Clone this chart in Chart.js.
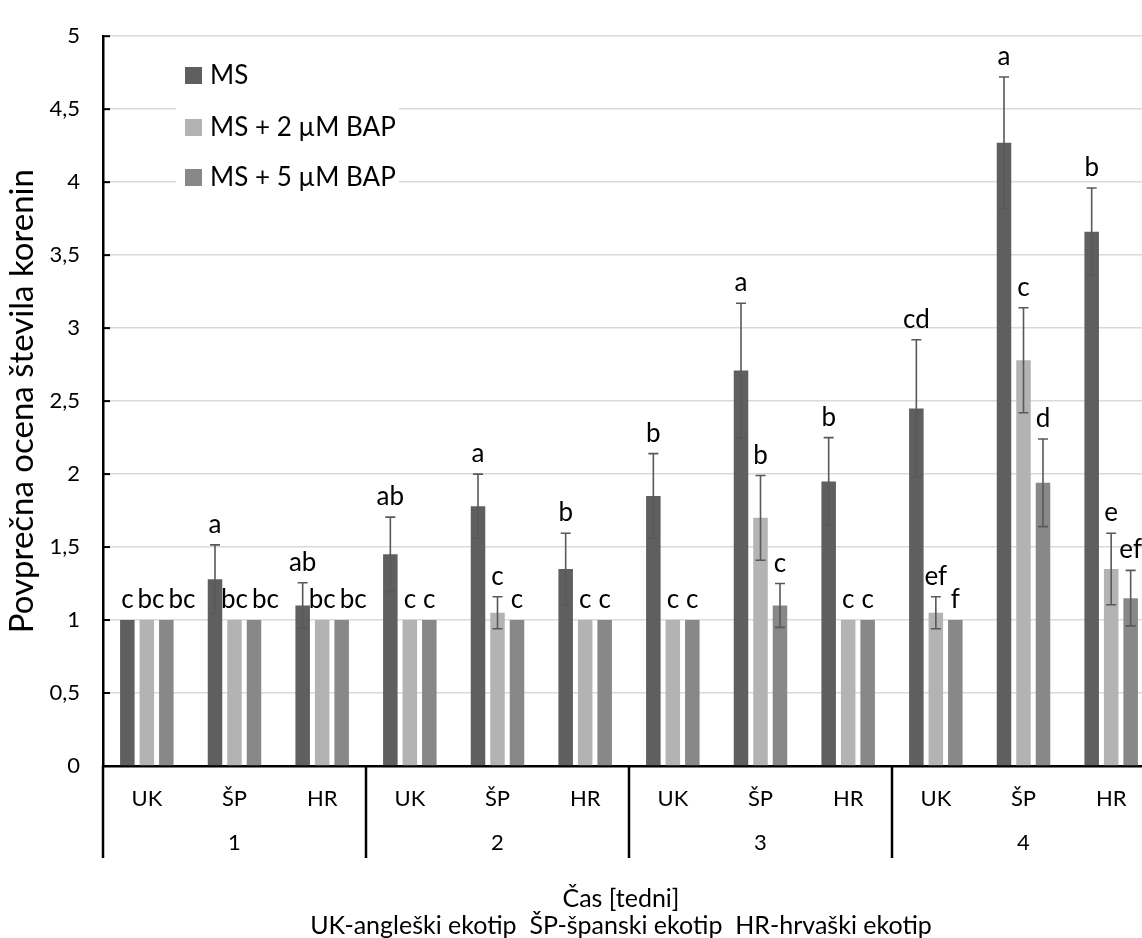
<!DOCTYPE html>
<html>
<head>
<meta charset="utf-8">
<script src="https://cdn.jsdelivr.net/npm/chart.js@4/dist/chart.umd.min.js"></script>
<style>
  html, body { margin: 0; padding: 0; background: #fff; overflow: hidden; }
  #wrap { width: 1163px; height: 938px; }
</style>
</head>
<body>
<div id="wrap"><canvas id="c" width="1163" height="938"></canvas></div>
<script>
// ---- data ----
const weeks = ['1', '2', '3', '4'];
const ecotypes = ['UK', 'ŠP', 'HR'];
const categories = ['UK', 'ŠP', 'HR', 'UK', 'ŠP', 'HR', 'UK', 'ŠP', 'HR', 'UK', 'ŠP', 'HR'];
const seriesNames = ['MS', 'MS + 2 µM BAP', 'MS + 5 µM BAP'];
const xTitleLines = ['Čas [tedni]', 'UK-angleški ekotip  ŠP-španski ekotip  HR-hrvaški ekotip'];
const yTitle = 'Povprečna ocena števila korenin';

const msValues   = [1.00, 1.28, 1.10, 1.45, 1.78, 1.35, 1.85, 2.71, 1.95, 2.45, 4.27, 3.66];
const msErrors   = [0.00, 0.235, 0.155, 0.255, 0.22, 0.245, 0.29, 0.46, 0.30, 0.47, 0.45, 0.30];
const bap2Values = [1.00, 1.00, 1.00, 1.00, 1.05, 1.00, 1.00, 1.70, 1.00, 1.05, 2.78, 1.35];
const bap2Errors = [0, 0, 0, 0, 0.11, 0, 0, 0.29, 0, 0.11, 0.36, 0.245];
const bap5Values = [1.00, 1.00, 1.00, 1.00, 1.00, 1.00, 1.00, 1.10, 1.00, 1.00, 1.94, 1.15];
const bap5Errors = [0, 0, 0, 0, 0, 0, 0, 0.15, 0, 0, 0.30, 0.19];

const msLetters   = ['c', 'a', 'ab', 'ab', 'a', 'b', 'b', 'a', 'b', 'cd', 'a', 'b'];
const bap2Letters = ['bc', 'bc', 'bc', 'c', 'c', 'c', 'c', 'b', 'c', 'ef', 'c', 'e'];
const bap5Letters = ['bc', 'bc', 'bc', 'c', 'c', 'c', 'c', 'c', 'c', 'f', 'd', 'ef'];

const yTickValues = [0, 0.5, 1, 1.5, 2, 2.5, 3, 3.5, 4, 4.5, 5];

// ---- style ----
const FONT = 'Lato, "Open Sans", "DejaVu Sans", sans-serif';
const colors = ['#5f5f5f', '#b3b3b3', '#888888'];

const extras = {
  id: 'extras',
  afterDatasetsDraw(chart) {
    const ctx = chart.ctx, y = chart.scales.y;
    ctx.save();
    ctx.font = '26px ' + FONT;
    const perCat = {};
    chart.data.datasets.forEach((ds, di) => {
      const meta = chart.getDatasetMeta(di);
      meta.data.forEach((bar, i) => {
        const v = ds.data[i], e = ds.errors[i];
        if (e > 0) {
          const t = y.getPixelForValue(v + e), b = y.getPixelForValue(v - e);
          ctx.strokeStyle = '#595959';
          ctx.lineWidth = 1.6;
          ctx.beginPath();
          ctx.moveTo(bar.x, t); ctx.lineTo(bar.x, b);
          ctx.moveTo(bar.x - 5, t); ctx.lineTo(bar.x + 5, t);
          ctx.moveTo(bar.x - 5, b); ctx.lineTo(bar.x + 5, b);
          ctx.stroke();
        }
        const txt = ds.letters[i];
        const w = ctx.measureText(txt).width;
        (perCat[i] = perCat[i] || []).push({ txt, x: bar.x, w, base: y.getPixelForValue(v + e) - 12 });
      });
    });
    // simple overlap avoidance: push labels right if they collide with a label at similar height
    ctx.fillStyle = '#000';
    ctx.textAlign = 'center';
    ctx.textBaseline = 'alphabetic';
    Object.values(perCat).forEach(list => {
      list.sort((a, b) => a.x - b.x);
      const placed = [];
      list.forEach(l => {
        let left = l.x - l.w / 2;
        placed.forEach(p => {
          if (Math.abs(p.base - l.base) < 18 && left < p.right + 4) left = p.right + 4;
        });
        l.cx = left + l.w / 2;
        l.right = left + l.w;
        placed.push(l);
        ctx.fillText(l.txt, l.cx, l.base);
      });
    });
    ctx.restore();
  },
  afterDraw(chart) {
    const ctx = chart.ctx, x = chart.scales.x, y = chart.scales.y, ca = chart.chartArea;
    ctx.save();
    // inner tick marks on y axis
    ctx.strokeStyle = '#000';
    ctx.lineWidth = 2;
    yTickValues.forEach(v => {
      const py = y.getPixelForValue(v);
      ctx.beginPath(); ctx.moveTo(ca.left, py); ctx.lineTo(ca.left + 7, py); ctx.stroke();
    });
    // group separators
    const catW = x.getPixelForValue(1) - x.getPixelForValue(0);
    ctx.lineWidth = 2.5;
    for (let g = 0; g <= weeks.length; g++) {
      const px = Math.round(x.getPixelForValue(g * ecotypes.length) - catW / 2);
      ctx.beginPath(); ctx.moveTo(px, ca.bottom); ctx.lineTo(px, ca.bottom + 92); ctx.stroke();
    }
    // group labels
    ctx.fillStyle = '#000';
    ctx.font = '22px ' + FONT;
    ctx.textAlign = 'center';
    ctx.textBaseline = 'middle';
    weeks.forEach((w, g) => {
      ctx.fillText(w, x.getPixelForValue(g * ecotypes.length + 1), 843);
    });
    // x axis title (two lines)
    ctx.font = '25px ' + FONT;
    ctx.fillText(xTitleLines[0], 621, 899);
    ctx.fillText(xTitleLines[1], 621, 926);
    // legend box
    ctx.fillStyle = '#fff';
    ctx.fillRect(176, 46, 223, 154);
    ctx.font = '26px ' + FONT;
    ctx.textAlign = 'left';
    const rows = [75, 127, 177];
    chart.data.datasets.forEach((ds, di) => {
      ctx.fillStyle = ds.backgroundColor;
      ctx.fillRect(185, rows[di] - 8, 17, 17);
      ctx.fillStyle = '#000';
      ctx.fillText(ds.label, 210, rows[di] + 1);
    });
    ctx.restore();
  }
};

new Chart(document.getElementById('c'), {
  type: 'bar',
  data: {
    labels: categories,
    datasets: [
      { label: seriesNames[0], data: msValues, errors: msErrors, letters: msLetters, backgroundColor: colors[0] },
      { label: seriesNames[1], data: bap2Values, errors: bap2Errors, letters: bap2Letters, backgroundColor: colors[1] },
      { label: seriesNames[2], data: bap5Values, errors: bap5Errors, letters: bap5Letters, backgroundColor: colors[2] }
    ]
  },
  options: {
    responsive: false,
    animation: false,
    devicePixelRatio: 1,
    categoryPercentage: 0.667,
    barPercentage: 0.745,
    layout: { padding: { top: 24, right: 8, left: 0, bottom: 0 } },
    plugins: { legend: { display: false }, tooltip: { enabled: false } },
    scales: {
      x: {
        grid: { display: false },
        border: { display: true, color: '#000', width: 2.5 },
        ticks: { color: '#000', font: { family: FONT, size: 22 }, padding: 12, maxRotation: 0, autoSkip: false },
        afterFit(scale) { scale.height = 172; }
      },
      y: {
        min: 0, max: 5,
        afterBuildTicks(scale) { scale.ticks = yTickValues.map(v => ({ value: v })); },
        grid: { color: '#d9d9d9', lineWidth: 1.5, drawTicks: false },
        border: { display: true, color: '#000', width: 2.5 },
        ticks: {
          color: '#000', font: { family: FONT, size: 22 }, padding: 23,
          callback: v => String(v).replace('.', ',')
        },
        title: {
          display: true,
          text: yTitle,
          color: '#000',
          font: { family: FONT, size: 33 },
          padding: { top: 3, bottom: 0 }
        },
        afterFit(scale) { scale.width = 103; }
      }
    }
  },
  plugins: [extras]
});
</script>
</body>
</html>
